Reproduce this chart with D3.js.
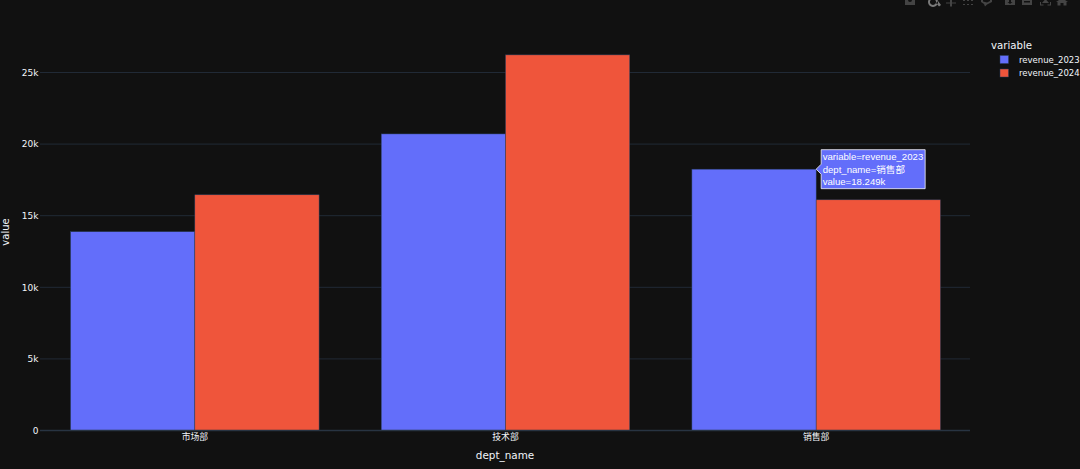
<html>
    <head>
        <meta charset="utf-8">
        <title>Revenue by department</title>
        <style>
            html, body { margin: 0; padding: 0; background: #111111; overflow: hidden; }
            svg { display: block; }
            text { font-family: "DejaVu Sans", "Noto Sans CJK SC", sans-serif; }
        </style>
    </head>

    <body>
        <script src="https://d3js.org/d3.v7.min.js"></script>
        <script>
            var depts = ['市场部', '技术部', '销售部'];
            var seriesNames = ['revenue_2023', 'revenue_2024'];
            var revenue2023 = [13880, 20710, 18249];
            var revenue2024 = [16460, 26230, 16110];
            var yTicks = [0, 5000, 10000, 15000, 20000, 25000];
            var colors = ['#636efa', '#ef553b'];

            var width = 1080, height = 469;
            var svg = d3.select('body').append('svg')
                .attr('width', width)
                .attr('height', height)
                .style('background', '#111111');

            var x = d3.scaleBand().domain(depts).range([39.5, 971.5]).paddingInner(0.2).paddingOuter(0.1);
            var x2 = d3.scaleBand().domain(seriesNames).range([0, x.bandwidth()]);
            var y = d3.scaleLinear().domain([0, 25000]).range([430.5, 72.5]);

            // grid
            svg.append('g').selectAll('line').data(yTicks.slice(1)).enter().append('line')
                .attr('x1', 40).attr('x2', 970)
                .attr('y1', function(d) { return y(d); })
                .attr('y2', function(d) { return y(d); })
                .style('stroke', '#212a36').style('stroke-width', 1);

            // bars
            [revenue2023, revenue2024].forEach(function(values, s) {
                svg.append('g').selectAll('rect').data(values).enter().append('rect')
                    .attr('x', function(d, i) { return x(depts[i]) + x2(seriesNames[s]); })
                    .attr('y', function(d) { return y(d); })
                    .attr('width', x2.bandwidth())
                    .attr('height', function(d) { return y(0) - y(d); })
                    .style('fill', colors[s])
                    .style('stroke', '#2a3f5f')
                    .style('stroke-width', 0.5);
            });

            // zero line
            svg.append('line').attr('x1', 40).attr('x2', 970)
                .attr('y1', y(0)).attr('y2', y(0))
                .style('stroke', '#283442').style('stroke-width', 1.5);

            // axes
            var yAxis = svg.append('g').attr('transform', 'translate(40,0)')
                .call(d3.axisLeft(y).tickValues(yTicks).tickSize(0).tickPadding(1.5)
                    .tickFormat(function(d) { return d === 0 ? '0' : (d / 1000) + 'k'; }));
            yAxis.select('.domain').remove();
            yAxis.selectAll('text').style('fill', '#f2f5fa').style('font-size', '9px')
                .style('font-family', '"DejaVu Sans", sans-serif');

            var xAxis = svg.append('g').attr('transform', 'translate(0,430)')
                .call(d3.axisBottom(x).tickSize(0).tickPadding(3.5));
            xAxis.select('.domain').remove();
            xAxis.selectAll('text').style('fill', '#f2f5fa').style('font-size', '8.8px')
                .style('font-family', '"Noto Sans CJK SC", sans-serif');

            svg.append('text').attr('x', 505).attr('y', 459).attr('text-anchor', 'middle')
                .style('fill', '#f2f5fa').style('font-size', '10.4px').text('dept_name');
            svg.append('text').attr('transform', 'translate(9,232) rotate(-90)').attr('text-anchor', 'middle')
                .style('fill', '#f2f5fa').style('font-size', '10px').text('value');

            // legend
            svg.append('text').attr('x', 991).attr('y', 49)
                .style('fill', '#f2f5fa').style('font-size', '10.2px').text('variable');
            var legend = svg.append('g').selectAll('g').data(seriesNames).enter().append('g')
                .attr('transform', function(d, i) { return 'translate(0,' + (59.5 + i * 13.5) + ')'; });
            legend.append('rect').attr('x', 1000).attr('y', -4).attr('width', 8.5).attr('height', 8)
                .style('fill', function(d, i) { return colors[i]; })
                .style('stroke', '#2a3f5f').style('stroke-width', 0.5);
            legend.append('text').attr('x', 1019).attr('y', 3.2)
                .style('fill', '#f2f5fa').style('font-size', '8.5px')
                .text(function(d) { return d; });

            // hover label on the last 2023 bar
            var hoverX = x(depts[2]) + x2(seriesNames[0]) + x2.bandwidth();
            var hoverY = y(revenue2023[2]);
            var hover = svg.append('g').attr('transform', 'translate(' + hoverX + ',' + hoverY + ')');
            hover.append('path')
                .attr('d', 'M0,0L5,-5V-19.5H109V19.5H5V5Z')
                .style('fill', colors[0]).style('stroke', 'rgba(255,255,255,0.75)').style('stroke-width', 1);
            var hoverLines = ['variable=' + seriesNames[0], 'dept_name=' + depts[2], 'value=18.249k'];
            hover.selectAll('text').data(hoverLines).enter().append('text')
                .attr('x', 6.5)
                .attr('y', function(d, i) { return -9 + i * 12.6; })
                .style('fill', '#ffffff').style('font-size', '9.6px')
                .style('font-family', '"Liberation Sans", "Noto Sans CJK SC", sans-serif')
                .text(function(d) { return d; });

            // modebar, cut off at the top of the picture
            var modebarIcons = [
                { d: 'M905,-2H915V5H905Z M908,0a2,2 0 1,0 4,0a2,2 0 1,0 -4,0Z', c: '#444444' },
                { d: 'M933,-3a5,5 0 1,0 0.01,0Z M933,-1a3,3 0 1,1 -0.01,0Z M936,3L938,1L941,5L939,6.5Z', c: '#7a7a7a' },
                { d: 'M950,-2H952V2.5H956V3.5H952V6.5H950V3.5H946V2.5H950Z', c: '#444444' },
                { d: 'M963,0h2v1h-2Z M967,0h2v1h-2Z M971,0h2v1h-2Z M963,4h2v1h-2Z M967,4h2v1h-2Z M971,4h2v1h-2Z', c: '#444444' },
                { d: 'M981,-2H992V2L987,4.5L985,6.5L984,4L981,2Z M983,0V1.5L987,2.5L990,1V0Z', c: '#444444' },
                { d: 'M1005,-2H1015V5H1005Z M1009,0V2H1007.5L1010,4L1012.5,2H1011V0Z', c: '#444444' },
                { d: 'M1022,-2H1032V5H1022Z M1024,1V2.5H1030V1Z', c: '#444444' },
                { d: 'M1040,2V5.5H1043.5V4.5H1041V2Z M1051,2V5.5H1047.5V4.5H1050V2Z M1045.5,-1L1049,3H1042Z', c: '#444444' },
                { d: 'M1062,-2L1068,2H1066.5V5.5H1063.5V3H1060.5V5.5H1057.5V2H1056Z', c: '#444444' }
            ];
            svg.append('g').selectAll('path').data(modebarIcons).enter().append('path')
                .attr('d', function(d) { return d.d; })
                .attr('fill-rule', 'evenodd')
                .style('fill', function(d) { return d.c; });
        </script>
    </body>
</html>
